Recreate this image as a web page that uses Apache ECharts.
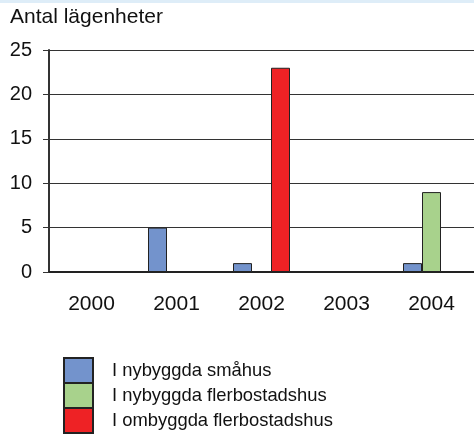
<!DOCTYPE html>
<html><head><meta charset="utf-8">
<script src="https://cdn.jsdelivr.net/npm/echarts@6/dist/echarts.min.js"></script>
<style>html,body{margin:0;padding:0;background:#fff}#c{width:474px;height:434px}#band{position:absolute;left:0;top:0;width:474px;height:3px;background:#deedf8}</style>
</head><body><div id="c"></div><div id="band"></div>
<script>
const categories = ['2000','2001','2002','2003','2004'];
const smahus = [0, 5, 1, 0, 1];
const nyFlerbostad = [0, 0, 0, 0, 9];
const omFlerbostad = [0, 0, 23, 0, 0];
const seriesNames = ['I nybyggda småhus','I nybyggda flerbostadshus','I ombyggda flerbostadshus'];
const yTicks = [0,5,10,15,20,25];
const colors = ['#7393cc','#a8d28c','#ee2225'];
const font = 'Liberation Sans, Arial, sans-serif';
const chart = echarts.init(document.getElementById('c'));
function mk(i, data){
  return {name: seriesNames[i], type:'bar', data: data.map(v=>v===0?null:v), barWidth:19, barGap:'0%',
    itemStyle:{color:colors[i], borderColor:'#222', borderWidth:1}, animation:false};
}
function lg(i){
  return {orient:'vertical', left:63, top:357 + 25*i, padding:0, itemWidth:29, itemHeight:25, itemGap:0, icon:'rect',
    data:[seriesNames[i]], textStyle:{fontFamily:font, fontSize:18.4, color:'#111', padding:[2,0,0,14]}};
}
chart.setOption({
  animation:false,
  title:{text:'Antal lägenheter', left:10, top:7, padding:0, textStyle:{fontFamily:font, fontSize:21, fontWeight:'normal', color:'#111'}},
  grid:{left:49, right:0, top:50, bottom:162},
  xAxis:{type:'category', data:categories, axisTick:{show:false},
    axisLine:{lineStyle:{color:'#222', width:2}},
    axisLabel:{fontFamily:font, fontSize:21, color:'#111', margin:22}},
  yAxis:{type:'value', min:0, max:25, interval:5,
    axisLine:{show:true, lineStyle:{color:'#333', width:2}},
    axisTick:{show:true, length:6, lineStyle:{color:'#333'}},
    axisLabel:{fontFamily:font, fontSize:20, color:'#111', margin:17, formatter:v=>yTicks.includes(v)?String(v):''},
    splitLine:{lineStyle:{color:'#333', width:1}}},
  legend:[lg(0), lg(1), lg(2)],
  series:[mk(0,smahus), mk(1,nyFlerbostad), mk(2,omFlerbostad)]
});
</script></body></html>
